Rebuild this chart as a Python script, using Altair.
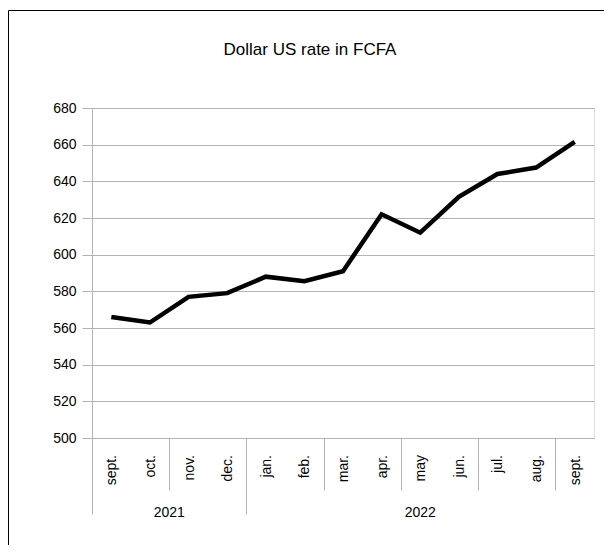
import altair as alt
import pandas as pd

# ---- data ----
months = ["sept.", "oct.", "nov.", "dec.", "jan.", "feb.", "mar.",
          "apr.", "may", "jun.", "jul.", "aug.", "sept."]
years = ["2021", "2021", "2021", "2021", "2022", "2022", "2022",
         "2022", "2022", "2022", "2022", "2022", "2022"]
rates = [566, 563, 577, 579, 588, 585.5, 591, 622, 612, 631.5, 644, 647.5, 661.5]
year_labels = ["2021", "2022"]
y_ticks = [500, 520, 540, 560, 580, 600, 620, 640, 660, 680]
title_text = ["Dollar US rate in FCFA"]

n = len(months)
df = pd.DataFrame({
    "pos": [i + 0.5 for i in range(n)],
    "month": months,
    "year": years,
    "rate": rates,
})
year_df = pd.DataFrame({
    "year": year_labels,
    "start": [years.index(y) for y in year_labels],
    "end": [len(years) - years[::-1].index(y) for y in year_labels],
})
year_df["mid"] = (year_df["start"] + year_df["end"]) / 2
year_bounds = sorted(set(year_df["start"]).union(set(year_df["end"])))

W, H = 502, 330
FONT = "Liberation Sans"
GRID = "#b3b3b3"

xscale = alt.Scale(domain=[0, n], nice=False, zero=False)
yscale = alt.Scale(domain=[y_ticks[0], y_ticks[-1]], nice=False, zero=False)

bound_test = " || ".join(f"datum.value == {b}" for b in year_bounds)

line = alt.Chart(df).mark_line(color="black", strokeWidth=4.5, strokeJoin="miter").encode(
    x=alt.X("pos:Q", scale=xscale,
            axis=alt.Axis(values=list(range(n + 1)), labels=False, title=None,
                          grid=False, domainColor=GRID, tickColor=GRID,
                          tickSize={"condition": {"test": bound_test, "value": 76}, "value": 52})),
    y=alt.Y("rate:Q", scale=yscale,
            axis=alt.Axis(values=y_ticks, title=None, grid=True, gridColor=GRID,
                          domainColor=GRID, tickColor=GRID, tickSize=10,
                          labelPadding=6, labelFontSize=14, labelFont=FONT,
                          labelColor="black")),
)

month_text = alt.Chart(df).mark_text(
    angle=270, align="right", baseline="middle", fontSize=14, font=FONT, color="black", dy=1
).encode(
    x=alt.X("pos:Q", scale=xscale),
    y=alt.value(H + 17),
    text="month:N",
)

year_text = alt.Chart(year_df).mark_text(
    align="center", baseline="alphabetic", fontSize=14, font=FONT, color="black"
).encode(
    x=alt.X("mid:Q", scale=xscale),
    y=alt.value(H + 79),
    text="year:N",
)

title = alt.Chart(pd.DataFrame({"t": title_text})).mark_text(
    align="center", baseline="alphabetic", fontSize=17, font=FONT, color="black"
).encode(
    x=alt.value(218), y=alt.value(-53), text="t:N",
)

border = alt.Chart(pd.DataFrame({"k": [0]})).mark_rect(
    fill=None, stroke="black", strokeWidth=1
).encode(
    x=alt.value(-83.5), x2=alt.value(W + 200),
    y=alt.value(-97.5), y2=alt.value(H + 300),
)

chart = alt.layer(border, line, month_text, year_text, title).properties(
    width=W, height=H,
    autosize=alt.AutoSizeParams(type="none"),
    padding={"left": 84, "top": 100, "right": 10, "bottom": 107},
).configure_view(stroke=GRID).configure(background="white")

chart.save("out.html", embed_options={"renderer": "svg", "actions": False})
